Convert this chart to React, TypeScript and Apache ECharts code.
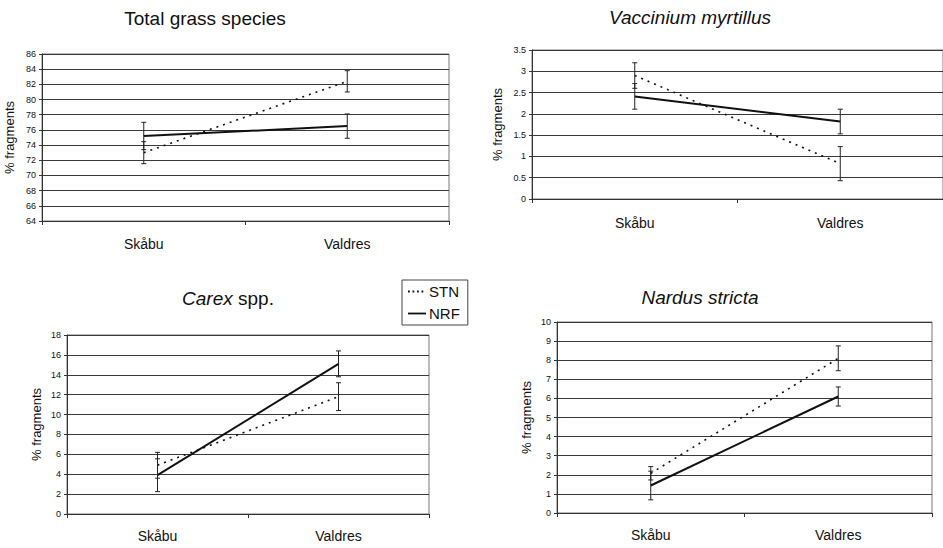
import React, { useEffect, useRef } from "react";
import * as echarts from "echarts";

const categories = ["Skåbu", "Valdres"];

const grassSTN = [73.0, 82.4];
const grassSTNErr = [1.45, 1.4];
const grassNRF = [75.2, 76.5];
const grassNRFErr = [1.8, 1.6];

const vaccSTN = [2.9, 0.83];
const vaccSTNErr = [0.3, 0.4];
const vaccNRF = [2.41, 1.82];
const vaccNRFErr = [0.3, 0.29];

const carexSTN = [4.9, 11.8];
const carexSTNErr = [1.3, 1.4];
const carexNRF = [3.9, 15.1];
const carexNRFErr = [1.65, 1.3];

const nardusSTN = [2.08, 8.1];
const nardusSTNErr = [0.35, 0.65];
const nardusNRF = [1.44, 6.1];
const nardusNRFErr = [0.75, 0.5];

const FONT = "'Liberation Sans', Arial, sans-serif";

type Panel = {
  stn: number[];
  stnErr: number[];
  nrf: number[];
  nrfErr: number[];
  min: number;
  max: number;
  interval: number;
  grid: { left: number; top: number; width: number; height: number };
  nameGap: number;
  labelMargin: number;
  tickFont: number;
};

const panels: Panel[] = [
  {
    stn: grassSTN, stnErr: grassSTNErr, nrf: grassNRF, nrfErr: grassNRFErr,
    min: 64, max: 86, interval: 2,
    grid: { left: 42, top: 54, width: 407, height: 167 },
    nameGap: 26, labelMargin: 16, tickFont: 9,
  },
  {
    stn: vaccSTN, stnErr: vaccSTNErr, nrf: vaccNRF, nrfErr: vaccNRFErr,
    min: 0, max: 3.5, interval: 0.5,
    grid: { left: 532, top: 50, width: 414, height: 149 },
    nameGap: 28, labelMargin: 17, tickFont: 9,
  },
  {
    stn: carexSTN, stnErr: carexSTNErr, nrf: carexNRF, nrfErr: carexNRFErr,
    min: 0, max: 18, interval: 2,
    grid: { left: 67, top: 335, width: 362, height: 179 },
    nameGap: 24, labelMargin: 15, tickFont: 9,
  },
  {
    stn: nardusSTN, stnErr: nardusSTNErr, nrf: nardusNRF, nrfErr: nardusNRFErr,
    min: 0, max: 10, interval: 1,
    grid: { left: 557, top: 322, width: 375, height: 191 },
    nameGap: 24, labelMargin: 15, tickFont: 9,
  },
];

function errorData(vals: number[], errs: number[]) {
  return vals.map((v, i) => [i, v - errs[i], v + errs[i]]);
}

function renderErr(params: any, api: any) {
  const x = api.value(0);
  const lo = api.coord([x, api.value(1)]);
  const hi = api.coord([x, api.value(2)]);
  const cw = 2.5;
  const st = { stroke: "#222", lineWidth: 1 };
  return {
    type: "group",
    children: [
      { type: "line", shape: { x1: lo[0], y1: lo[1], x2: hi[0], y2: hi[1] }, style: st },
      { type: "line", shape: { x1: lo[0] - cw, y1: lo[1], x2: lo[0] + cw, y2: lo[1] }, style: st },
      { type: "line", shape: { x1: hi[0] - cw, y1: hi[1], x2: hi[0] + cw, y2: hi[1] }, style: st },
    ],
  };
}

export default function App() {
  const ref = useRef<HTMLDivElement>(null);
  useEffect(() => {
    if (!ref.current) return;
    const chart = echarts.init(ref.current, undefined, { renderer: "svg" });

    const grid: any[] = [];
    const xAxis: any[] = [];
    const yAxis: any[] = [];
    const series: any[] = [];

    panels.forEach((p, i) => {
      grid.push({
        ...p.grid,
        show: true,
        borderColor: "#777",
        borderWidth: 1,
        backgroundColor: "transparent",
        containLabel: false,
      });
      xAxis.push({
        type: "category",
        gridIndex: i,
        data: categories,
        boundaryGap: true,
        axisLine: { show: true, lineStyle: { color: "#333", width: 1 } },
        axisTick: { show: true, length: 4, lineStyle: { color: "#333" } },
        axisLabel: { fontFamily: FONT, fontSize: 14, color: "#111", margin: p.labelMargin },
        splitLine: { show: false },
      });
      yAxis.push({
        type: "value",
        gridIndex: i,
        min: p.min,
        max: p.max,
        interval: p.interval,
        name: "% fragments",
        nameLocation: "middle",
        nameGap: p.nameGap,
        nameTextStyle: { fontFamily: FONT, fontSize: 13, color: "#111" },
        axisLine: { show: true, lineStyle: { color: "#333", width: 1 } },
        axisTick: { show: true, length: 3, lineStyle: { color: "#333" } },
        axisLabel: { fontFamily: FONT, fontSize: p.tickFont, color: "#111", margin: 6 },
        splitLine: { show: true, lineStyle: { color: "#3a3a3a", width: 1 } },
      });
      series.push({
        name: "STN",
        type: "line",
        xAxisIndex: i,
        yAxisIndex: i,
        data: p.stn,
        symbol: "none",
        lineStyle: { color: "#111", width: 1.6, type: [2, 5] },
        itemStyle: { color: "#111" },
        z: 3,
      });
      series.push({
        name: "NRF",
        type: "line",
        xAxisIndex: i,
        yAxisIndex: i,
        data: p.nrf,
        symbol: "none",
        lineStyle: { color: "#111", width: 2 },
        itemStyle: { color: "#111" },
        z: 3,
      });
      series.push({
        type: "custom",
        xAxisIndex: i,
        yAxisIndex: i,
        data: errorData(p.stn, p.stnErr),
        encode: { x: 0, y: [1, 2] },
        renderItem: renderErr,
        z: 4,
      });
      series.push({
        type: "custom",
        xAxisIndex: i,
        yAxisIndex: i,
        data: errorData(p.nrf, p.nrfErr),
        encode: { x: 0, y: [1, 2] },
        renderItem: renderErr,
        z: 4,
      });
    });

    const titleStyle = (text: string, x: number, y: number, italic: boolean) => ({
      type: "text",
      x,
      y,
      style: {
        text,
        fontFamily: FONT,
        fontSize: 19,
        fontStyle: italic ? "italic" : "normal",
        fill: "#111",
        textAlign: "center",
        textVerticalAlign: "middle",
      },
    });

    chart.setOption({
      animation: false,
      backgroundColor: "#fff",
      grid,
      xAxis,
      yAxis,
      series,
      legend: {
        data: [
          { name: "STN", icon: "path://M0,4h2v2h-2z M5,4h2v2h-2z M10,4h2v2h-2z M15,4h2v2h-2z M20,4h0.01v2h-0.01z" },
          { name: "NRF", icon: "path://M0,4h20v2h-20z" },
        ],
        orient: "vertical",
        left: 402,
        top: 280,
        itemWidth: 18,
        itemHeight: 10,
        itemGap: 7,
        padding: [4, 8, 4, 6],
        borderColor: "#444",
        borderWidth: 1,
        borderRadius: 0,
        itemStyle: { color: "#111" },
        textStyle: { fontFamily: FONT, fontSize: 15, color: "#111", padding: [0, 0, 0, -2] },
      },
      graphic: [
        titleStyle("Total grass species", 205, 18, false),
        titleStyle("Vaccinium myrtillus", 690, 17, true),
        {
          type: "text",
          x: 228,
          y: 298,
          style: {
            text: "{i|Carex} spp.",
            fontFamily: FONT,
            fontSize: 19,
            fill: "#111",
            textAlign: "center",
            textVerticalAlign: "middle",
            rich: {
              i: { fontFamily: FONT, fontSize: 19, fontStyle: "italic", fill: "#111" },
            },
          },
        },
        titleStyle("Nardus stricta", 700, 297, true),
      ],
    });

    return () => chart.dispose();
  }, []);

  return (
    <div
      ref={ref}
      style={{ position: "absolute", left: 0, top: 0, width: 943, height: 548, background: "#fff" }}
    />
  );
}
